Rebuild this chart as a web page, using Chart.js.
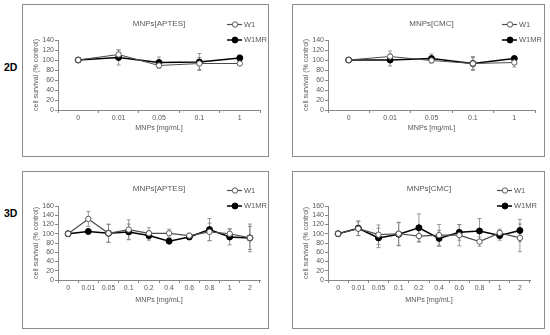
<!DOCTYPE html>
<html>
<head>
<meta charset="utf-8">
<script src="https://cdn.jsdelivr.net/npm/chart.js@4/dist/chart.umd.min.js"></script>
<style>
  body { margin: 0; background: #fff; width: 550px; height: 335px; position: relative; overflow: hidden; }
  canvas { position: absolute; }
  .kehys { position: absolute; border: 1px solid #8c8c8c; box-sizing: border-box; pointer-events: none; }
  .rivi { position: absolute; left: 4px; font: bold 10.5px "Liberation Sans", Arial, sans-serif; color: #000; }
</style>
</head>
<body>
<div class="rivi" style="top:61px">2D</div>
<div class="rivi" style="top:207px">3D</div>
<canvas id="c1" width="247" height="153" style="left:22px;top:4px"></canvas>
<canvas id="c2" width="253" height="153" style="left:292px;top:4px"></canvas>
<canvas id="c3" width="247" height="158" style="left:22px;top:171px"></canvas>
<canvas id="c4" width="253" height="158" style="left:292px;top:171px"></canvas>
<div class="kehys" style="left:22px;top:4px;width:247px;height:153px"></div>
<div class="kehys" style="left:292px;top:4px;width:253px;height:153px"></div>
<div class="kehys" style="left:22px;top:171px;width:247px;height:158px"></div>
<div class="kehys" style="left:292px;top:171px;width:253px;height:158px"></div>
<script>
// kategoriat
const pitoisuudet2D = ['0', '0.01', '0.05', '0.1', '1'];
const pitoisuudet3D = ['0', '0.01', '0.05', '0.1', '0.2', '0.4', '0.6', '0.8', '1', '2'];

// 2D MNPs[APTES]
const aptes2D_W1 = [100, 111, 89, 93, 93];
const aptes2D_W1MR = [100, 105, 95, 96, 104];
const aptes2D_W1_err = [2, 9, 5, 12, 4];
const aptes2D_W1MR_err = [2, 15, 11, 17, 6];

// 2D MNPs[CMC]
const cmc2D_W1 = [100, 107, 99, 93, 95];
const cmc2D_W1MR = [100, 100, 103, 93, 103];
const cmc2D_W1_err = [2, 11, 4, 12, 9];
const cmc2D_W1MR_err = [2, 12, 9, 14, 3];

// 3D MNPs[APTES]
const aptes3D_W1 = [100, 132, 101, 109, 101, 101, 96, 104, 100, 91];
const aptes3D_W1MR = [100, 105, 101, 104, 96, 84, 93, 109, 93, 91];
const aptes3D_W1_err = [2, 16, 20, 21, 12, 9, 5, 19, 11, 25];
const aptes3D_W1MR_err = [2, 4, 19, 17, 10, 4, 5, 24, 17, 30];

// 3D MNPs[CMC]
const cmc3D_W1 = [100, 111, 98, 100, 95, 97, 97, 83, 102, 91];
const cmc3D_W1MR = [100, 112, 91, 99, 113, 90, 103, 106, 96, 107];
const cmc3D_W1_err = [2, 15, 21, 25, 13, 23, 23, 10, 8, 30];
const cmc3D_W1MR_err = [2, 16, 21, 25, 30, 17, 17, 27, 10, 24];

const fontti = '"Liberation Sans", Arial, sans-serif';
const harmaa = '#595959';
const akseli = '#868686';

// virhepalkit akselien kautta
const virhePalkit = {
  id: 'virhePalkit',
  beforeDatasetsDraw(chart) {
    const ctx = chart.ctx;
    const y = chart.scales.y;
    ctx.save();
    ctx.strokeStyle = '#808080';
    ctx.lineWidth = 0.8;
    chart.data.datasets.forEach((ds, i) => {
      const meta = chart.getDatasetMeta(i);
      meta.data.forEach((p, j) => {
        const e = ds.errors[j];
        const yl = y.getPixelForValue(ds.data[j] + e);
        const ya = y.getPixelForValue(ds.data[j] - e);
        ctx.beginPath();
        ctx.moveTo(p.x, yl); ctx.lineTo(p.x, ya);
        ctx.moveTo(p.x - 2, yl); ctx.lineTo(p.x + 2, yl);
        ctx.moveTo(p.x - 2, ya); ctx.lineTo(p.x + 2, ya);
        ctx.stroke();
      });
    });
    ctx.restore();
  }
};

// oma selite oikeaan yläkulmaan
const selite = {
  id: 'selite',
  afterDraw(chart) {
    const ctx = chart.ctx;
    const a = chart.chartArea;
    const x0 = a.right - 33;
    const rivit = [a.top - 15.5, a.top];
    ctx.save();
    chart.data.datasets.forEach((ds, i) => {
      const yy = rivit[i];
      ctx.strokeStyle = ds.borderColor;
      ctx.lineWidth = ds.borderWidth;
      ctx.beginPath(); ctx.moveTo(x0, yy); ctx.lineTo(x0 + 15, yy); ctx.stroke();
      ctx.beginPath();
      ctx.arc(x0 + 8, yy, ds.pointRadius, 0, Math.PI * 2);
      ctx.fillStyle = ds.pointBackgroundColor;
      ctx.fill();
      ctx.lineWidth = 1;
      ctx.strokeStyle = ds.pointBorderColor;
      ctx.stroke();
      ctx.fillStyle = harmaa;
      ctx.font = '7.5px ' + fontti;
      ctx.textBaseline = 'middle';
      ctx.fillText(ds.label, x0 + 17, yy);
    });
    ctx.restore();
  }
};

function piirräKuvaaja(id, otsikko, kategoriat, w1, w1mr, e1, e2, yMax, asettelu) {
  const canvas = document.getElementById(id);
  const ctx = canvas.getContext('2d');
  const w = canvas.width, h = canvas.height;
  const a = asettelu;
  new Chart(ctx, {
    type: 'line',
    data: {
      labels: kategoriat,
      datasets: [{
        label: 'W1',
        data: w1,
        errors: e1,
        borderColor: '#4d4d4d',
        borderWidth: 1.2,
        pointStyle: 'circle',
        pointRadius: 2.7,
        pointBorderWidth: 1,
        pointBorderColor: '#595959',
        pointBackgroundColor: '#ffffff',
        tension: 0,
        fill: false
      }, {
        label: 'W1MR',
        data: w1mr,
        errors: e2,
        borderColor: '#000000',
        borderWidth: 1.5,
        pointStyle: 'circle',
        pointRadius: 3,
        pointBorderWidth: 1,
        pointBorderColor: '#000000',
        pointBackgroundColor: '#000000',
        tension: 0,
        fill: false
      }]
    },
    options: {
      responsive: false,
      animation: false,
      layout: { padding: { left: 10, right: w - a.right, top: 0, bottom: h - a.bottom - 24 } },
      plugins: {
        legend: { display: false },
        tooltip: { enabled: false },
        title: {
          display: true,
          text: otsikko,
          fullSize: false,
          color: harmaa,
          font: { family: fontti, size: 8, weight: 'normal' },
          padding: { top: a.titleY - 4.8, bottom: a.top - (a.titleY - 4.8) - 9.6 }
        }
      },
      scales: {
        x: {
          offset: true,
          afterFit: s => { s.height = 24; },
          grid: { offset: true, drawOnChartArea: false, drawTicks: true, tickLength: 3, color: akseli },
          border: { display: true, color: akseli, width: 1 },
          ticks: { color: harmaa, font: { family: fontti, size: 7 }, padding: 1, maxRotation: 0, autoSkip: false },
          title: { display: true, text: 'MNPs [mg/mL]', color: harmaa, font: { family: fontti, size: 7.2 }, padding: { top: 0, bottom: a.xTitlePad } }
        },
        y: {
          min: 0,
          max: yMax,
          afterFit: s => { s.width = 26; },
          grid: { drawOnChartArea: false, drawTicks: true, tickLength: 3, color: akseli },
          border: { display: true, color: akseli, width: 1 },
          ticks: { stepSize: 20, autoSkip: false, color: harmaa, font: { family: fontti, size: 7 }, padding: 1 },
          title: { display: true, text: 'cell survival (% control)', color: harmaa, font: { family: fontti, size: 7 }, padding: 0 }
        }
      }
    },
    plugins: [virhePalkit, selite]
  });
}

piirräKuvaaja('c1', 'MNPs[APTES]', pitoisuudet2D, aptes2D_W1, aptes2D_W1MR, aptes2D_W1_err, aptes2D_W1MR_err, 140,
  { right: 238, top: 36, bottom: 106, titleY: 20, xTitlePad: 2 });
piirräKuvaaja('c2', 'MNPs[CMC]', pitoisuudet2D, cmc2D_W1, cmc2D_W1MR, cmc2D_W1_err, cmc2D_W1MR_err, 140,
  { right: 243, top: 36, bottom: 106, titleY: 20, xTitlePad: 2 });
piirräKuvaaja('c3', 'MNPs[APTES]', pitoisuudet3D, aptes3D_W1, aptes3D_W1MR, aptes3D_W1_err, aptes3D_W1MR_err, 160,
  { right: 238, top: 35, bottom: 109, titleY: 18, xTitlePad: 0 });
piirräKuvaaja('c4', 'MNPs[CMC]', pitoisuudet3D, cmc3D_W1, cmc3D_W1MR, cmc3D_W1_err, cmc3D_W1MR_err, 160,
  { right: 238, top: 35, bottom: 109, titleY: 18, xTitlePad: 0 });
</script>
</body>
</html>
